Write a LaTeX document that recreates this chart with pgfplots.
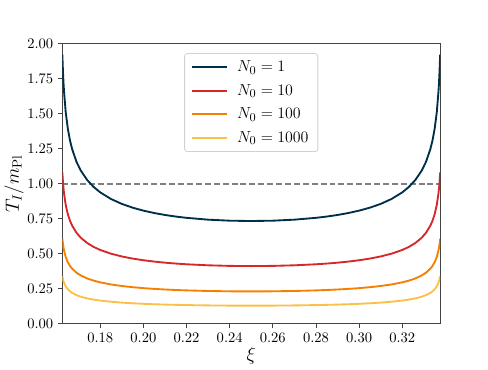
\documentclass[border=0pt]{standalone}
\usepackage{pgfplots}
\pgfplotsset{compat=1.18}
\usepackage{pgfplotstable}
\definecolor{cNavy}{HTML}{003049}
\definecolor{cRed}{HTML}{D62828}
\definecolor{cOrange}{HTML}{F77F00}
\definecolor{cYellow}{HTML}{FCBF49}
\definecolor{spine}{HTML}{444444}

% xi, T_I/m_Pl for N0 = 1, 10, 100, 1000
\pgfplotstableread{
xi a b c d
0.16245 1.9228 1.0812 0.6080 0.3419
0.1625 1.8984 1.0675 0.6002 0.3376
0.1628 1.7786 1.0001 0.5624 0.3163
0.1630 1.7167 0.9653 0.5428 0.3053
0.1632 1.6641 0.9358 0.5262 0.2959
0.1640 1.5130 0.8508 0.4784 0.2690
0.1650 1.3929 0.7832 0.4404 0.2477
0.1660 1.3100 0.7366 0.4142 0.2329
0.1670 1.2477 0.7016 0.3945 0.2219
0.1690 1.1580 0.6512 0.3661 0.2059
0.1710 1.0948 0.6156 0.3462 0.1947
0.1740 1.0269 0.5774 0.3247 0.1826
0.1770 0.9776 0.5497 0.3091 0.1738
0.1800 0.9396 0.5284 0.2971 0.1671
0.1850 0.8922 0.5017 0.2821 0.1587
0.1900 0.8573 0.4821 0.2711 0.1524
0.1950 0.8304 0.4669 0.2626 0.1477
0.2000 0.8092 0.4550 0.2558 0.1439
0.2050 0.7921 0.4454 0.2504 0.1408
0.2100 0.7782 0.4376 0.2461 0.1384
0.2150 0.7669 0.4313 0.2425 0.1364
0.2200 0.7578 0.4261 0.2396 0.1348
0.2300 0.7447 0.4188 0.2355 0.1324
0.2400 0.7374 0.4146 0.2331 0.1311
0.2500 0.7350 0.4133 0.2324 0.1307
0.2600 0.7374 0.4146 0.2331 0.1311
0.2700 0.7447 0.4188 0.2355 0.1324
0.2800 0.7578 0.4261 0.2396 0.1348
0.2850 0.7669 0.4313 0.2425 0.1364
0.2900 0.7782 0.4376 0.2461 0.1384
0.2950 0.7921 0.4454 0.2504 0.1408
0.3000 0.8092 0.4550 0.2558 0.1439
0.3050 0.8304 0.4669 0.2626 0.1477
0.3100 0.8573 0.4821 0.2711 0.1524
0.3150 0.8922 0.5017 0.2821 0.1587
0.3200 0.9396 0.5284 0.2971 0.1671
0.3230 0.9776 0.5497 0.3091 0.1738
0.3260 1.0269 0.5774 0.3247 0.1826
0.3290 1.0948 0.6156 0.3462 0.1947
0.3310 1.1580 0.6512 0.3661 0.2059
0.3330 1.2477 0.7016 0.3945 0.2219
0.3340 1.3100 0.7366 0.4142 0.2329
0.3350 1.3929 0.7832 0.4404 0.2477
0.3360 1.5130 0.8508 0.4784 0.2690
0.3368 1.6641 0.9358 0.5262 0.2959
0.3370 1.7167 0.9653 0.5428 0.3053
0.3372 1.7786 1.0001 0.5624 0.3163
0.3375 1.8984 1.0675 0.6002 0.3376
0.33755 1.9228 1.0812 0.6080 0.3419
}\datatable

\begin{document}
\begin{tikzpicture}
% full figure area (488 x 366 px at 0.75pt/px)
\path (-45.75pt,-30.75pt) rectangle (320.25pt,243.75pt);
\begin{axis}[
  at={(0,0)}, anchor=south west,
  scale only axis,
  width=284.25pt, height=210.75pt,
  xmin=0.16245, xmax=0.33755,
  ymin=0, ymax=2,
  xtick={0.18,0.20,...,0.321},
  ytick={0,0.25,...,2.01},
  xticklabel style={/pgf/number format/.cd, fixed, fixed zerofill, precision=2},
  yticklabel style={/pgf/number format/.cd, fixed, fixed zerofill, precision=2},
  tick label style={font=\fontsize{10.8}{13}\selectfont},
  tick align=outside,
  major tick length=3.3pt,
  xtick pos=bottom, ytick pos=left,
  tick style={spine, line width=0.7pt},
  axis line style={spine, line width=0.8pt},
  xlabel={$\xi$},
  ylabel={$T_I/m_{\rm Pl}$},
  label style={font=\fontsize{14.5}{17}\selectfont},
  xlabel style={at={(axis description cs:0.5,-0.115)}, anchor=center},
  ylabel style={at={(axis description cs:-0.128,0.5)}, anchor=center, rotate=0},
  legend style={at={(axis description cs:0.5,0.967)}, anchor=north,
    draw=black!18, rounded corners=2pt, line width=0.6pt,
    font=\fontsize{12.5}{14}\selectfont,
    inner xsep=5pt, inner ysep=3.5pt,
    row sep=4pt,
    /tikz/every odd column/.append style={column sep=5pt}},
  legend cell align=left,
  legend image code/.code={\draw[#1, line width=1.4pt] (0pt,0pt) -- (26pt,0pt);},
  every axis plot/.append style={line width=1.4pt, line join=round},
]
\addplot[black!50, line width=1.1pt, dash pattern=on 4.5pt off 2.2pt, forget plot]
  coordinates {(0.16245,1) (0.33755,1)};
\addplot[cNavy] table[x=xi, y=a] {\datatable};
\addlegendentry{$N_0 = 1$}
\addplot[cRed] table[x=xi, y=b] {\datatable};
\addlegendentry{$N_0 = 10$}
\addplot[cOrange] table[x=xi, y=c] {\datatable};
\addlegendentry{$N_0 = 100$}
\addplot[cYellow] table[x=xi, y=d] {\datatable};
\addlegendentry{$N_0 = 1000$}
\end{axis}
\end{tikzpicture}
\end{document}
